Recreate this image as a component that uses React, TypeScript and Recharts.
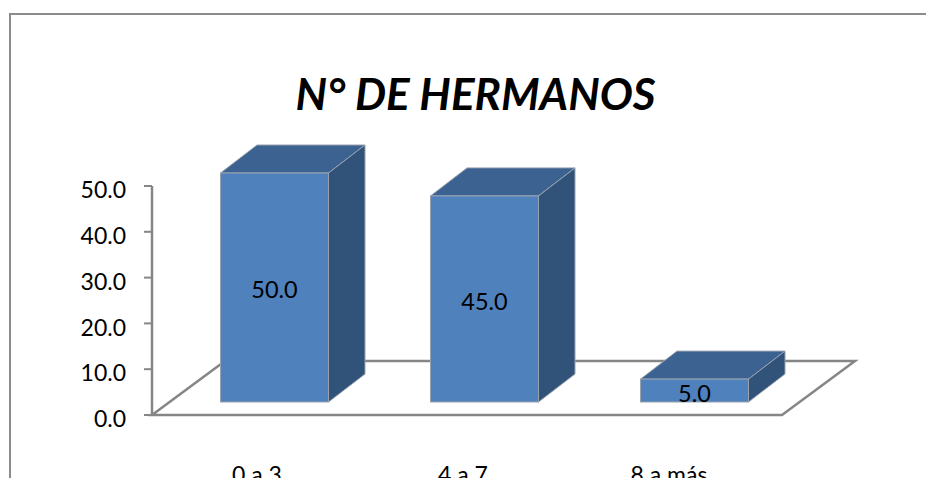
import { BarChart, Bar, XAxis, YAxis, LabelList, Customized } from 'recharts';

const categories = ['0 a 3', '4 a 7', '8 a más'];
const values = [50.0, 45.0, 5.0];
const yTicks = [0, 10, 20, 30, 40, 50];

const data = categories.map((name, i) => ({ name, value: values[i] }));

const FONT = 'Lato, Carlito, sans-serif';
const AXIS = '#868686';
// bars sit part way into the floor, the depth of a 3D column
const SHIFT_X = 17.5;
const SHIFT_Y = -13;
const DEPTH_X = 36.5;
const DEPTH_Y = -28;
// category labels are set a little tighter than the bars
const LABEL_SQUEEZE = 0.981;
const FIRST_LABEL_X = 257;

function Box3D(props: any) {
  const { x, y, width, height } = props;
  const l = x + SHIFT_X;
  const r = l + width;
  const t = y + SHIFT_Y;
  const b = t + height;
  return (
    <g stroke="#98a2ae" strokeWidth={1}>
      <polygon
        points={`${l},${t} ${l + DEPTH_X},${t + DEPTH_Y} ${r + DEPTH_X},${t + DEPTH_Y} ${r},${t}`}
        fill="#3c6291"
      />
      <polygon
        points={`${r},${t} ${r + DEPTH_X},${t + DEPTH_Y} ${r + DEPTH_X},${b + DEPTH_Y} ${r},${b}`}
        fill="#325379"
      />
      <rect x={l} y={t} width={width} height={height} fill="#4f81bd" />
    </g>
  );
}

function Floor(props: any) {
  const { offset } = props;
  const left = offset?.left ?? 152;
  const top = offset?.top ?? 186;
  const w = offset?.width ?? 630;
  const h = offset?.height ?? 229;
  const bottom = top + h;
  return (
    <polygon
      points={`${left},${bottom} ${left + w},${bottom} ${left + w + 73},${bottom - 54} ${left + 73},${bottom - 54}`}
      fill="none"
      stroke={AXIS}
      strokeWidth={2.5}
    />
  );
}

function BarValue(props: any) {
  const { x, y, width, height, value } = props;
  return (
    <text
      x={x + SHIFT_X + width / 2}
      y={y + SHIFT_Y + height / 2 + 5}
      textAnchor="middle"
      dominantBaseline="middle"
      fontFamily={FONT}
      fontSize={23.5}
      fill="#000"
    >
      {Number(value).toFixed(1)}
    </text>
  );
}

function CategoryTick(props: any) {
  const { x, y, payload } = props;
  return (
    <text
      x={FIRST_LABEL_X + (x - FIRST_LABEL_X) * LABEL_SQUEEZE}
      y={y}
      dy={16}
      textAnchor="middle"
      fontFamily={FONT}
      fontSize={23}
      fill="#000"
    >
      {payload.value}
    </text>
  );
}

export default function App() {
  return (
    <div style={{ position: 'absolute', left: 0, top: 0, width: 926, height: 478, overflow: 'hidden', background: '#fff' }}>
      <div
        style={{
          position: 'absolute',
          left: 9,
          top: 13,
          width: 930,
          height: 480,
          border: '2px solid #8c8c8c',
          boxSizing: 'border-box',
        }}
      />
      <div
        style={{
          position: 'absolute',
          left: 0,
          top: 67,
          width: 951,
          textAlign: 'center',
          fontFamily: FONT,
          fontSize: 44,
          fontWeight: 700,
          fontStyle: 'italic',
          color: '#000',
        }}
      >
        N° DE HERMANOS
      </div>
      <BarChart
        width={926}
        height={478}
        data={data}
        margin={{ top: 186, right: 144, bottom: 0, left: 0 }}
        barSize={108}
        style={{ position: 'absolute', left: 0, top: 0 }}
      >
        <Customized component={Floor} />
        <XAxis
          dataKey="name"
          height={63}
          axisLine={false}
          tickLine={false}
          tickMargin={46}
          interval={0}
          tick={CategoryTick}
        />
        <YAxis
          width={152}
          domain={[0, 50]}
          ticks={yTicks}
          tickFormatter={(v: number) => v.toFixed(1)}
          axisLine={{ stroke: AXIS, strokeWidth: 2.5 }}
          tickLine={{ stroke: AXIS, strokeWidth: 2 }}
          tickSize={8}
          tickMargin={18}
          tick={{ fontFamily: FONT, fontSize: 23, fill: '#000', dy: 4 }}
        />
        <Bar dataKey="value" shape={Box3D} isAnimationActive={false}>
          <LabelList dataKey="value" content={BarValue} />
        </Bar>
      </BarChart>
    </div>
  );
}
